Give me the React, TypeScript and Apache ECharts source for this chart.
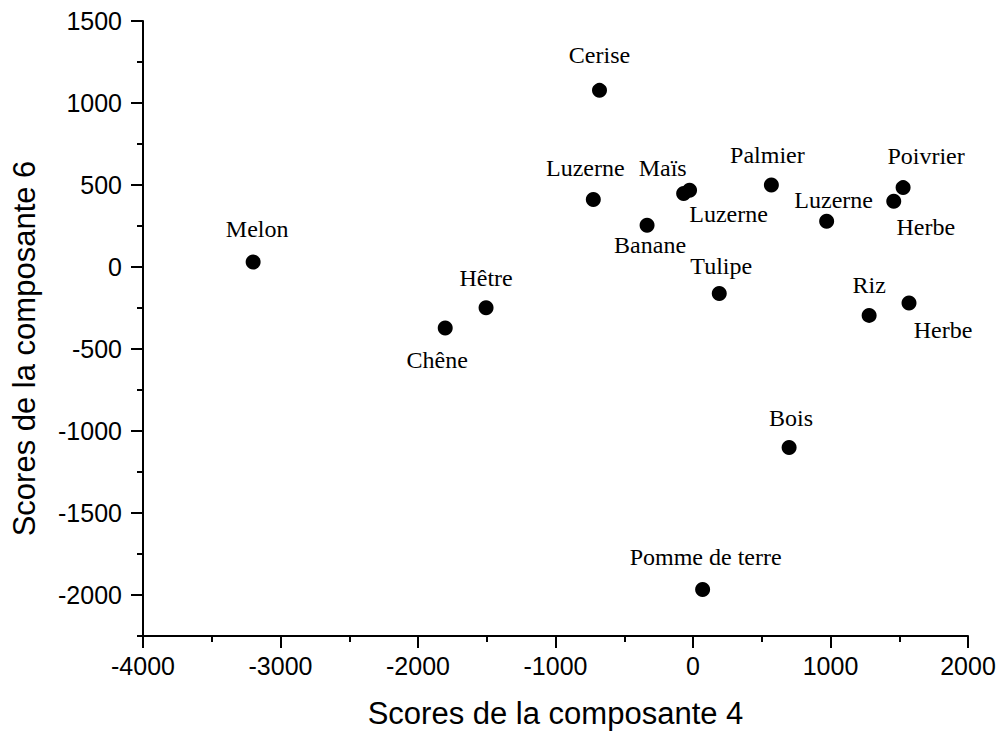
import React, { useEffect, useRef } from "react";
import * as echarts from "echarts";

// ---- Data ----
const names = [
  "Melon", "Chêne", "Hêtre", "Cerise", "Luzerne", "Maïs", "Luzerne", "Banane",
  "Palmier", "Tulipe", "Poivrier", "Herbe", "Luzerne", "Riz", "Herbe", "Bois",
  "Pomme de terre",
];
const comp4 = [
  -3199, -1802, -1505, -680, -725, -68, -25, -334,
  570, 191, 1528, 1460, 972, 1281, 1571, 699,
  70,
];
const comp6 = [
  30, -372, -248, 1077, 411, 448, 468, 254,
  500, -162, 484, 401, 279, -295, -220, -1101,
  -1967,
];
const xTicks = [-4000, -3000, -2000, -1000, 0, 1000, 2000];
const yMajorTicks = [-2000, -1500, -1000, -500, 0, 500, 1000, 1500];
const yMinorTicks = [-2250, -1750, -1250, -750, -250, 250, 750, 1250];

// label offsets (styling, not data): [dx, dy] from marker centre
const labelOffsets: [number, number][] = [
  [4, -33], [-8, 32], [0, -30], [0, -35], [-8, -32], [-21, -26], [39, 24], [3, 20],
  [-4, -30], [2, -28], [23, -32], [32, 26], [7, -21], [0, -30], [34, 27], [2, -30],
  [3, -33],
];

export default function App() {
  const ref = useRef<HTMLDivElement>(null);
  useEffect(() => {
    if (!ref.current) return;
    const chart = echarts.init(ref.current, undefined, { renderer: "svg" });
    const axisFont = "'Liberation Sans', Arial, sans-serif";
    const black = "#000";
    const plain = (v: number) => String(v);
    chart.setOption({
      animation: false,
      backgroundColor: "#fff",
      grid: { left: 143, right: 36, top: 21, bottom: 100, outerBoundsMode: "none" },
      xAxis: {
        type: "value",
        min: xTicks[0],
        max: xTicks[xTicks.length - 1],
        interval: 1000,
        name: "Scores de la composante 4",
        nameLocation: "middle",
        nameGap: 62,
        nameTextStyle: { fontFamily: axisFont, fontSize: 31, color: black },
        axisLine: { show: true, onZero: false, lineStyle: { color: black, width: 2 } },
        axisTick: { show: true, length: 12, lineStyle: { color: black, width: 2 } },
        minorTick: { show: true, splitNumber: 2, length: 6, lineStyle: { color: black, width: 2 } },
        axisLabel: { fontFamily: axisFont, fontSize: 25, color: black, margin: 17, formatter: plain },
        splitLine: { show: false },
        minorSplitLine: { show: false },
      },
      yAxis: [
        {
          type: "value",
          position: "left",
          min: -2250,
          max: 1500,
          name: "Scores de la composante 6",
          nameLocation: "middle",
          nameGap: 103,
          nameTextStyle: { fontFamily: axisFont, fontSize: 31, color: black, padding: [0, 40, 0, 0] },
          axisLine: { show: true, onZero: false, lineStyle: { color: black, width: 2 } },
          axisTick: { show: true, length: 12, customValues: yMajorTicks, lineStyle: { color: black, width: 2 } },
          axisLabel: {
            fontFamily: axisFont, fontSize: 25, color: black, margin: 21,
            customValues: yMajorTicks, formatter: plain,
          },
          splitLine: { show: false },
        },
        {
          type: "value",
          position: "left",
          min: -2250,
          max: 1500,
          axisLine: { show: false, onZero: false },
          axisTick: { show: true, length: 6, customValues: yMinorTicks, lineStyle: { color: black, width: 2 } },
          axisLabel: { show: false },
          splitLine: { show: false },
        },
      ],
      series: [
        {
          type: "scatter",
          xAxisIndex: 0,
          yAxisIndex: 0,
          symbol: "circle",
          symbolSize: 15,
          itemStyle: { color: black, opacity: 1 },
          label: {
            show: true,
            position: "inside",
            formatter: "{b}",
            fontFamily: "'Liberation Serif', 'Times New Roman', serif",
            fontSize: 24,
            color: black,
            opacity: 1,
          },
          data: names.map((n, i) => ({
            name: n,
            value: [comp4[i], comp6[i]],
            label: { offset: labelOffsets[i] },
          })),
        },
      ],
    });
    return () => chart.dispose();
  }, []);
  return (
    <div
      ref={ref}
      style={{ position: "fixed", left: 0, top: 0, width: 1004, height: 736, background: "#fff" }}
    />
  );
}
